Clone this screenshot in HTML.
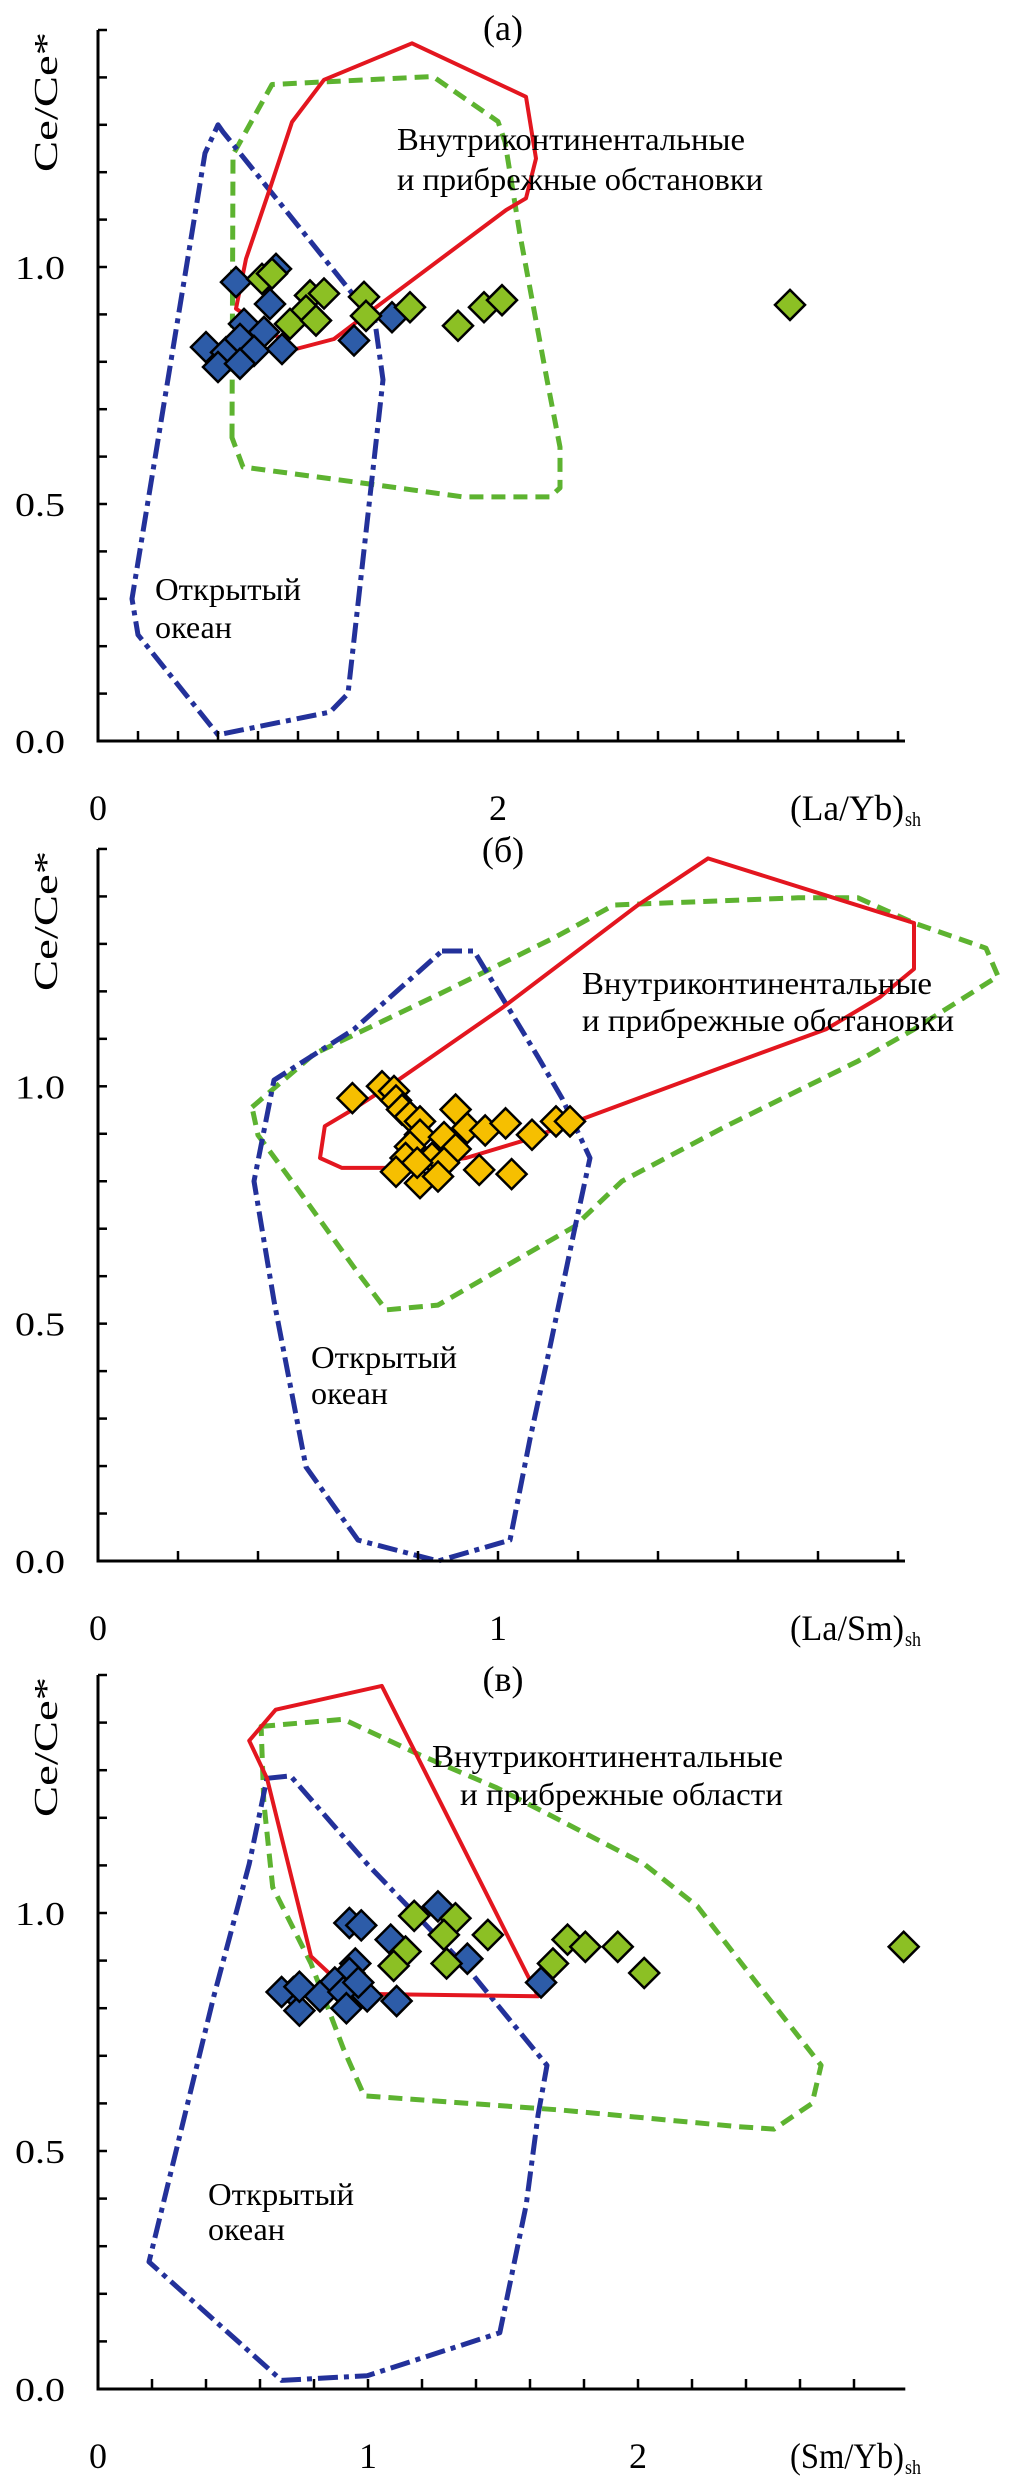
<!DOCTYPE html>
<html><head><meta charset="utf-8"><style>
html,body{margin:0;padding:0;background:#fff;}
svg{display:block;font-family:"Liberation Serif","DejaVu Serif",serif;}
</style></head><body>
<svg id="chart" width="1010" height="2480" viewBox="0 0 1010 2480" xmlns="http://www.w3.org/2000/svg"></svg>
<script>
// ---------- Panel (a): Ce/Ce* vs (La/Yb)sh ----------
const aBlueX=[0.69,0.89,0.86,0.73,0.83,0.54,0.64,0.71,0.78,0.92,0.60,0.71,1.28,1.47];
const aBlueY=[0.968,0.996,0.922,0.88,0.863,0.831,0.82,0.848,0.823,0.827,0.789,0.796,0.845,0.894];
const aGreenX=[0.82,0.87,1.06,1.13,1.04,0.96,1.09,1.33,1.34,1.56,1.80,1.93,2.02,3.46];
const aGreenY=[0.975,0.986,0.94,0.944,0.908,0.88,0.887,0.937,0.897,0.915,0.876,0.915,0.93,0.92];
const aRedX=[0.69,0.74,0.86,0.97,1.13,1.57,2.14,2.19,2.14,2.04,1.39,1.28,1.18,0.99];
const aRedY=[0.912,1.017,1.166,1.306,1.395,1.472,1.359,1.229,1.145,1.12,0.915,0.88,0.848,0.827];
const aGreenFieldX=[0.67,0.675,0.87,1.675,2.0,2.035,2.11,2.245,2.31,2.31,2.26,1.825,1.325,0.725];
const aGreenFieldY=[0.64,1.237,1.385,1.402,1.307,1.264,1.068,0.762,0.62,0.534,0.515,0.515,0.544,0.578];
const aOceanX=[0.60,0.625,1.26,1.385,1.425,1.25,1.16,0.60,0.20,0.17,0.535];
const aOceanY=[1.30,1.285,0.95,0.884,0.762,0.10,0.061,0.013,0.224,0.30,1.24];
// ---------- Panel (б): Ce/Ce* vs (La/Sm)sh ----------
const bYellowX=[0.636,0.71,0.74,0.745,0.76,0.78,0.805,0.894,0.923,0.968,1.019,1.085,1.145,1.18,0.805,0.865,0.894,0.78,0.769,0.835,0.865,0.745,0.805,0.85,0.953,1.034,0.798];
const bYellowY=[0.975,1.0,0.99,0.97,0.951,0.936,0.926,0.951,0.912,0.907,0.922,0.898,0.926,0.926,0.898,0.893,0.868,0.873,0.849,0.849,0.839,0.82,0.796,0.81,0.824,0.815,0.839];
const bRedX=[1.525,2.04,2.04,1.955,1.82,1.54,1.21,1.07,0.92,0.725,0.61,0.555,0.567,0.635,0.75,1.01,1.35];
const bRedY=[1.48,1.344,1.247,1.188,1.12,1.034,0.931,0.887,0.849,0.828,0.828,0.849,0.916,0.95,1.013,1.165,1.382];
const bGreenFieldX=[0.385,0.54,0.865,1.145,1.29,1.75,1.90,2.04,2.22,2.25,2.04,1.90,1.57,1.31,1.19,0.85,0.72,0.65,0.51,0.40];
const bGreenFieldY=[0.956,1.068,1.199,1.315,1.382,1.397,1.397,1.344,1.291,1.232,1.12,1.053,0.916,0.80,0.704,0.539,0.529,0.607,0.771,0.897];
const bOceanX=[0.86,0.94,1.10,1.16,1.23,1.19,1.13,1.08,1.03,0.85,0.65,0.52,0.44,0.39,0.44,0.64];
const bOceanY=[1.285,1.285,1.062,0.975,0.849,0.693,0.451,0.257,0.044,0.0,0.044,0.198,0.548,0.80,1.013,1.12];
// ---------- Panel (в): Ce/Ce* vs (Sm/Yb)sh ----------
const cBlueX=[0.931,0.975,1.084,1.259,1.368,0.953,0.931,0.877,0.724,0.68,0.746,0.822,0.909,0.92,0.997,1.106,1.641,0.746,0.964];
const cBlueY=[0.979,0.974,0.944,1.014,0.904,0.894,0.874,0.854,0.834,0.834,0.795,0.825,0.834,0.80,0.825,0.815,0.854,0.845,0.854];
const cGreenX=[1.171,1.324,1.281,1.444,1.139,1.095,1.291,1.685,1.739,1.805,1.925,2.023,2.984];
const cGreenY=[0.994,0.989,0.954,0.954,0.919,0.889,0.894,0.894,0.944,0.929,0.929,0.874,0.929];
const cRedX=[1.051,1.63,0.997,0.855,0.789,0.626,0.56,0.658];
const cRedY=[1.477,0.825,0.83,0.874,0.909,1.283,1.362,1.427];
const cGreenFieldX=[0.604,0.909,1.193,1.477,1.717,2.023,2.22,2.438,2.678,2.645,2.504,2.373,1.717,0.986,0.909,0.789,0.647,0.614];
const cGreenFieldY=[1.392,1.407,1.332,1.263,1.193,1.103,1.014,0.854,0.68,0.60,0.546,0.551,0.586,0.616,0.715,0.894,1.054,1.233];
const cOceanX=[0.626,0.713,0.997,1.368,1.663,1.63,1.586,1.488,0.997,0.68,0.189,0.429,0.56];
const cOceanY=[1.283,1.288,1.103,0.884,0.68,0.576,0.387,0.118,0.028,0.018,0.267,0.825,1.103];
// tick labels
const yTickLabels=["0.0","0.5","1.0"];
const yTickValues=[0,0.5,1.0];

const NS="http://www.w3.org/2000/svg";
const svg=document.getElementById('chart');
function el(tag,attrs,parent){const e=document.createElementNS(NS,tag);for(const k in attrs)e.setAttribute(k,attrs[k]);(parent||svg).appendChild(e);return e;}

const panels=[
 {id:'a',x0:98,xs:200,y0:741,ys:474,xmax:4.035,xt:0.2,xlabels:[[0,"0"],[2,"2"]],xtitle:"(La/Yb)",title:"(а)",titleY:40,
  contX:397,contY1:150,contY2:190,cont1:"Внутриконтинентальные",cont2:"и прибрежные обстановки",c1w:348,c2w:366,anchorEnd:false,
  oceanX:155,oceanY1:600,oceanY2:638},
 {id:'b',x0:98,xs:400,y0:1561,ys:474.7,xmax:2.0175,xt:0.2,xlabels:[[0,"0"],[1,"1"]],xtitle:"(La/Sm)",title:"(б)",titleY:862,
  contX:582,contY1:994,contY2:1031,cont1:"Внутриконтинентальные",cont2:"и прибрежные обстановки",c1w:350,c2w:372,anchorEnd:false,
  oceanX:311,oceanY1:1368,oceanY2:1404},
 {id:'c',x0:98,xs:270,y0:2389,ys:476,xmax:2.99,xt:0.2,xlabels:[[0,"0"],[1,"1"],[2,"2"]],xtitle:"(Sm/Yb)",title:"(в)",titleY:1691,
  contX:432,contY1:1767,contY2:1805,cont1:"Внутриконтинентальные",cont2:"и прибрежные области",c1w:351,c2w:323,anchorEnd:true,
  oceanX:208,oceanY1:2205,oceanY2:2240}
];
const fields={
 a:{red:[aRedX,aRedY],green:[aGreenFieldX,aGreenFieldY],ocean:[aOceanX,aOceanY],pts:[[aBlueX,aBlueY,'#2d5ca8'],[aGreenX,aGreenY,'#8cc024']]},
 b:{red:[bRedX,bRedY],green:[bGreenFieldX,bGreenFieldY],ocean:[bOceanX,bOceanY],pts:[[bYellowX,bYellowY,'#f6bf00']]},
 c:{red:[cRedX,cRedY],green:[cGreenFieldX,cGreenFieldY],ocean:[cOceanX,cOceanY],pts:[[cBlueX,cBlueY,'#2d5ca8'],[cGreenX,cGreenY,'#8cc024']]}
};

panels.forEach(p=>{
  const X=v=>p.x0+v*p.xs, Y=v=>p.y0-v*p.ys;
  const g=el('g',{});
  
  
  const f=fields[p.id];
  const poly=(arr,stroke,dash,w,name)=>{
    const pts=arr[0].map((x,i)=>X(x).toFixed(1)+','+Y(arr[1][i]).toFixed(1)).join(' ');
    const e=el('polygon',{points:pts,fill:'none',stroke:stroke,'stroke-width':w,'stroke-linejoin':'round'},g);
    if(dash)e.setAttribute('stroke-dasharray',dash);
    
    
  };
  poly(f.green,'#5db330','14 8',5,'continental-field-dashed-'+p.id);
  poly(f.ocean,'#23319a','20 6 5 6',5,'open-ocean-field-'+p.id);
  poly(f.red,'#e3161f',null,4,'continental-field-solid-'+p.id);
  // axes
  const ax=el('line',{x1:p.x0,y1:Y(1.5),x2:p.x0,y2:p.y0+1.5,stroke:'#000','stroke-width':3},g);
  
  
  const xa=el('line',{x1:p.x0,y1:p.y0,x2:X(p.xmax),y2:p.y0,stroke:'#000','stroke-width':3},g);
  
  
  for(let v=0.1;v<=1.501;v+=0.1){el('line',{x1:p.x0,y1:Y(v),x2:p.x0+9,y2:Y(v),stroke:'#000','stroke-width':2.5},g);}
  for(let v=p.xt;v<=p.xmax+0.01;v+=p.xt){el('line',{x1:X(v),y1:p.y0,x2:X(v),y2:p.y0-10,stroke:'#000','stroke-width':2.5},g);}
  yTickLabels.forEach((t,i)=>{
    const e=el('text',{x:65,y:Y(yTickValues[i])+12,'text-anchor':'end','font-size':34,textLength:50,lengthAdjust:'spacingAndGlyphs'},g);
    e.textContent=t;
    
    
  });
  p.xlabels.forEach(l=>{
    const e=el('text',{x:X(l[0]),y:p.y0+79,'text-anchor':'middle','font-size':36},g);
    e.textContent=l[1];
    
    
  });
  const xt=el('text',{x:790,y:p.y0+79,'font-size':36,textLength:114,lengthAdjust:'spacingAndGlyphs'},g);
  xt.textContent=p.xtitle;
  
  
  const sub=el('text',{x:905,y:p.y0+85,'font-size':20,textLength:16,lengthAdjust:'spacingAndGlyphs'},g);
  sub.textContent='sh';
  
  
  const yt=el('text',{x:0,y:0,'font-size':34,'text-anchor':'middle',textLength:140,lengthAdjust:'spacingAndGlyphs',transform:`translate(57,${Y(1.5)+72}) rotate(-90)`},g);
  yt.textContent='Ce/Ce*';
  
  
  const tt=el('text',{x:503,y:p.titleY,'text-anchor':'middle','font-size':36},g);
  tt.textContent=p.title;
  
  
  // points
  f.pts.forEach(s=>{
    s[0].forEach((xv,i)=>{
      const cx=X(xv), cy=Y(s[1][i]), r=15;
      const d=el('polygon',{points:`${cx},${cy-r} ${cx+r},${cy} ${cx},${cy+r} ${cx-r},${cy}`,fill:s[2],stroke:'#000','stroke-width':2.5},g);
      
      
    });
  });
  // region labels
  const anc=p.anchorEnd?'end':'start', ax2=p.anchorEnd?783:p.contX;
  const t1=el('text',{x:ax2,y:p.contY1,'text-anchor':anc,'font-size':32,textLength:p.c1w,lengthAdjust:'spacingAndGlyphs'},g);
  t1.textContent=p.cont1;
  
  
  const t2=el('text',{x:ax2,y:p.contY2,'text-anchor':anc,'font-size':32,textLength:p.c2w,lengthAdjust:'spacingAndGlyphs'},g);
  t2.textContent=p.cont2;
  
  
  const o1=el('text',{x:p.oceanX,y:p.oceanY1,'font-size':32,textLength:146,lengthAdjust:'spacingAndGlyphs'},g);
  o1.textContent='Открытый';
  
  
  const o2=el('text',{x:p.oceanX,y:p.oceanY2,'font-size':32,textLength:77,lengthAdjust:'spacingAndGlyphs'},g);
  o2.textContent='океан';
  
  
});
</script>
</body></html>
